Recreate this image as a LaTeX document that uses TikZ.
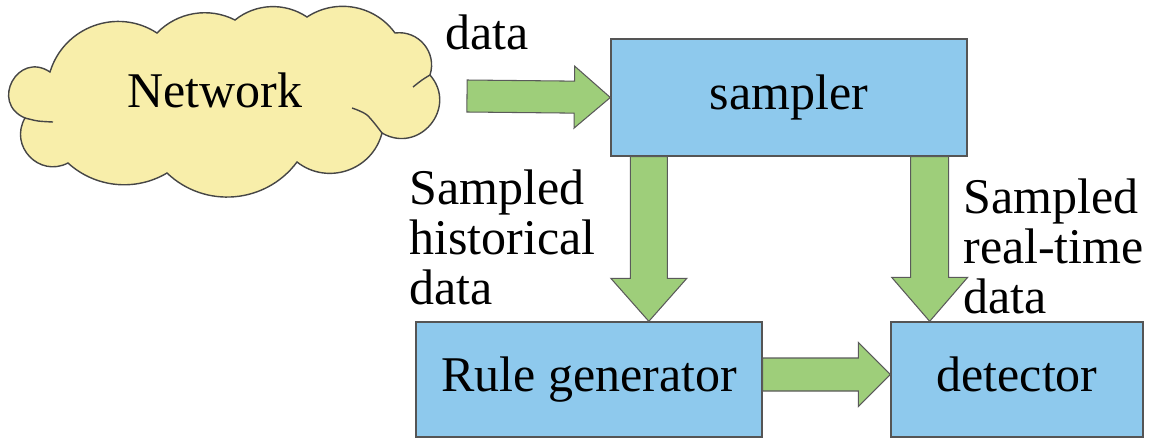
\documentclass[tikz,border=0pt]{standalone}
\usepackage{fontspec}
\setmainfont{Liberation Serif}
\usetikzlibrary{calc}

\definecolor{boxblue}{RGB}{142,201,237}
\definecolor{boxline}{RGB}{85,85,85}
\definecolor{flowgreen}{RGB}{158,206,122}
\definecolor{flowline}{RGB}{90,90,90}
\definecolor{cloudfill}{RGB}{248,238,170}
\definecolor{cloudline}{RGB}{70,70,70}

% Block arrow from #1 to #2: shaft half-width #3, head half-width #4, head length #5
\newcommand\fatarrow[5]{%
  \path ($(#2)!#5!(#1)$) coordinate (hb);
  \filldraw[greenflow]
    ($(#1)!#3!90:(#2)$) -- ($(hb)!#3!90:(#2)$) -- ($(hb)!#4!90:(#2)$) -- (#2)
    -- ($(hb)!#4!-90:(#2)$) -- ($(hb)!#3!-90:(#2)$) -- ($(#1)!#3!-90:(#2)$) -- cycle;}

\begin{document}
\begin{tikzpicture}[x=0.02cm, y=-0.02cm,
  txt/.style={font=\fontsize{28.45}{28.45}\selectfont, inner sep=0pt},
  strutted/.style={text height=19.4pt, text depth=6.2pt},
  block/.style={txt, strutted, draw=boxline, line width=0.8pt, fill=boxblue},
  greenflow/.style={draw=flowline, line width=0.6pt, fill=flowgreen, line join=miter},
  label/.style={txt, align=left, anchor=north west}]
\useasboundingbox (0,0) rectangle (1149,440);

% cloud outline, one Bezier bulge per lobe
\filldraw[fill=cloudfill, draw=cloudline, line width=0.8pt, line join=miter]
  (25,118) .. controls (-10.5,102.9) and (18.0,50.5) .. (50,72)
  .. controls (63.8,26.6) and (117.3,7.1) .. (157,33)
  .. controls (177.3,12.0) and (209.0,6.7) .. (235,20)
  .. controls (255.7,3.3) and (284.9,2.1) .. (307,17)
  .. controls (335.9,-2.0) and (374.7,5.0) .. (395,33)
  .. controls (418.5,29.9) and (437.3,52.4) .. (430,75)
  .. controls (458.4,107.6) and (419.3,154.8) .. (382,133)
  .. controls (372.4,170.4) and (327.5,185.8) .. (297,162)
  .. controls (265.8,203.9) and (204.8,209.1) .. (167,173)
  .. controls (135.4,191.8) and (95.2,187.8) .. (68,163)
  .. controls (39.2,177.9) and (8.8,146.1) .. (25,118)
  -- cycle;
% inner folds of the cloud
\draw[cloudline, line width=0.8pt]
  plot[smooth] coordinates {(25,118) (38,121) (53,122)}
  plot[smooth] coordinates {(352,108) (367,115) (382,133)}
  plot[smooth] coordinates {(413,87) (422,80) (430,75)};

\node[txt, strutted] (network) at (215,96) {Network};

% blocks
\node[block, minimum width=7.12cm, minimum height=2.34cm] (sampler) at (789,97.5) {sampler};
\node[block, minimum width=6.92cm, minimum height=2.30cm] (rulegen) at (589,379.5) {Rule generator};
\node[block, minimum width=5.04cm, minimum height=2.30cm] (detector) at (1017,379.5) {detector};

% connectors
\coordinate (datain) at (467,96);
\coordinate (histout) at ($(sampler.south west)+(38.5,0)$);
\coordinate (liveout) at ($(sampler.south east)+(-38,0)$);
\coordinate (ruleout) at ($(rulegen.east)+(0,-5)$);
\coordinate (detin) at ($(detector.west)+(0,-5)$);

\fatarrow{datain}{sampler.west}{0.32cm}{0.62cm}{0.72cm}
\fatarrow{histout}{histout |- rulegen.north}{0.37cm}{0.76cm}{0.86cm}
\fatarrow{liveout}{liveout |- detector.north}{0.38cm}{0.76cm}{0.88cm}
\fatarrow{ruleout}{detin}{0.33cm}{0.64cm}{0.64cm}

% labels
\node[txt, anchor=base west] (datalabel) at (445,49) {data};
\node[label] (histlabel) at (409,169) {Sampled\\historical\\data};
\node[label] (livelabel) at (963,178) {Sampled\\real-time\\data};
\end{tikzpicture}
\end{document}
